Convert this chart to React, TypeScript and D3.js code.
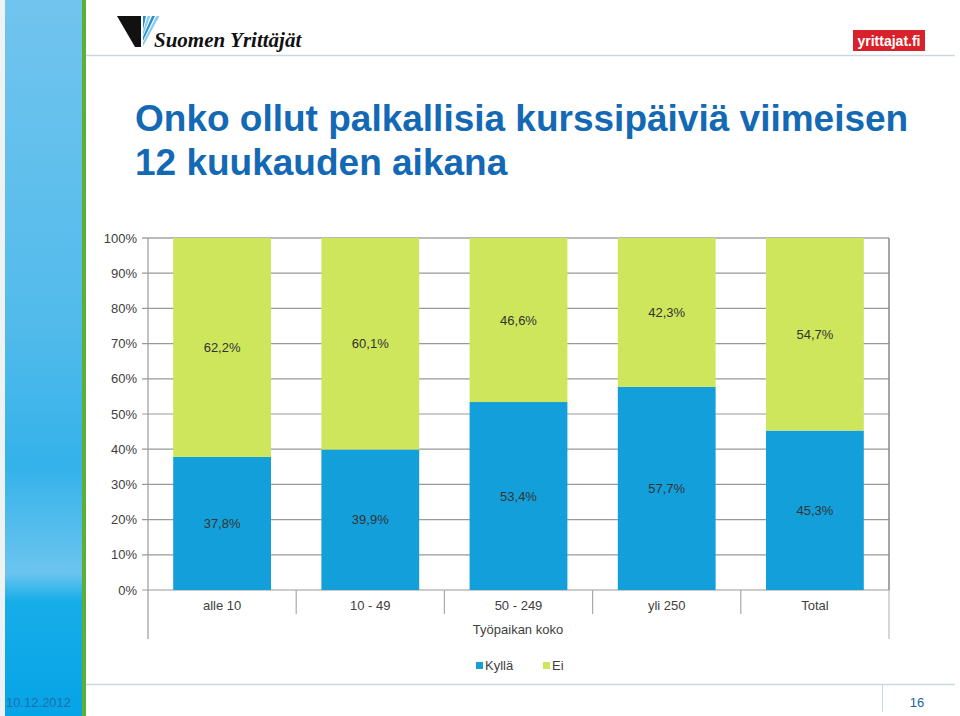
import { useEffect, useRef } from "react";
import * as d3 from "d3";

const categories = ["alle 10", "10 - 49", "50 - 249", "yli 250", "Total"];
const kylla = [37.8, 39.9, 53.4, 57.7, 45.3];
const ei = [62.2, 60.1, 46.6, 42.3, 54.7];
const seriesNames = ["Kyllä", "Ei"];
const yTicks = [0, 10, 20, 30, 40, 50, 60, 70, 80, 90, 100];

const W = 960;
const H = 716;
const BLUE = "#139fda";
const GREEN = "#cde65b";
const TITLE = "#1369b4";
const FONT = "Liberation Sans, Arial, sans-serif";

const fmt = (v: number) => v.toFixed(1).replace(".", ",") + "%";

export default function App() {
  const svgRef = useRef<SVGSVGElement>(null);

  useEffect(() => {
    if (!svgRef.current) return;
    const svg = d3.select(svgRef.current);
    svg.selectAll("*").remove();

    const defs = svg.append("defs");
    const grad = defs
      .append("linearGradient")
      .attr("id", "strip")
      .attr("x1", 0)
      .attr("y1", 0)
      .attr("x2", 0)
      .attr("y2", 1);
    grad.append("stop").attr("offset", "0%").attr("stop-color", "#71c4ee");
    grad.append("stop").attr("offset", "45%").attr("stop-color", "#52bbeb");
    grad.append("stop").attr("offset", "65%").attr("stop-color", "#34b2ea");
    grad.append("stop").attr("offset", "80%").attr("stop-color", "#6cc4ef");
    grad.append("stop").attr("offset", "84%").attr("stop-color", "#17ade9");
    grad.append("stop").attr("offset", "100%").attr("stop-color", "#05a4e6");

    // background + side strip
    svg.append("rect").attr("width", W).attr("height", H).attr("fill", "#fff");
    svg.append("rect").attr("x", 0).attr("width", 5).attr("height", H).attr("fill", "#eef2f4");
    svg.append("rect").attr("x", 5).attr("width", 77).attr("height", H).attr("fill", "url(#strip)");
    svg.append("rect").attr("x", 82).attr("width", 4).attr("height", H).attr("fill", "#5bb033");

    // header rule + logos
    svg.append("line").attr("x1", 86).attr("x2", 955).attr("y1", 55.5).attr("y2", 55.5)
      .attr("stroke", "#c9d9e0").attr("stroke-width", 1.5);
    const logo = svg.append("g").attr("transform", "translate(117,16)");
    logo.append("path").attr("d", "M0,0 L24,0 L24,31 L18,31 Z").attr("fill", "#111");
    [0, 1, 2, 3].forEach((i) => {
      const o = i * 4.5;
      logo.append("path")
        .attr("d", `M${26 + o},0 L${29 + o},0 L${26},${14 + o * 1.2} L26,${10 + o * 1.2} Z`)
        .attr("fill", i % 2 ? "#8ccbee" : "#2a8fd0");
    });
    svg.append("text").attr("x", 154).attr("y", 47)
      .attr("font-family", "Liberation Serif, Times New Roman, serif")
      .attr("font-style", "italic").attr("font-weight", "bold").attr("font-size", 21)
      .attr("fill", "#111").text("Suomen Yrittäjät");
    svg.append("rect").attr("x", 853).attr("y", 30).attr("width", 72).attr("height", 21).attr("fill", "#d8212a");
    svg.append("text").attr("x", 889).attr("y", 46).attr("text-anchor", "middle")
      .attr("font-family", FONT).attr("font-weight", "bold").attr("font-size", 14)
      .attr("fill", "#fff").text("yrittajat.fi");

    // title
    const title = svg.append("text").attr("font-family", FONT).attr("font-size", 37)
      .attr("font-weight", "bold").attr("fill", TITLE);
    title.append("tspan").attr("x", 135).attr("y", 131).text("Onko ollut palkallisia kurssipäiviä viimeisen");
    title.append("tspan").attr("x", 135).attr("y", 175).text("12 kuukauden aikana");

    // chart
    const x0 = 148, x1 = 889, yTop = 238, yBot = 590;
    const x = d3.scaleBand<string>().domain(categories).range([x0, x1]).paddingInner(0.34).paddingOuter(0.17);
    const y = d3.scaleLinear().domain([0, 100]).range([yBot, yTop]);
    const g = svg.append("g");

    yTicks.forEach((t) => {
      g.append("line").attr("x1", x0 - 6).attr("x2", x1).attr("y1", y(t)).attr("y2", y(t))
        .attr("stroke", t === 100 ? "#777" : "#999").attr("stroke-width", 1.2);
      g.append("text").attr("x", 137).attr("y", y(t) + 4.5).attr("text-anchor", "end")
        .attr("font-family", FONT).attr("font-size", 13).attr("fill", "#404040").text(`${t}%`);
    });

    const stack = d3.stack<number>().keys(["0", "1"]).value((i, k) => (k === "0" ? kylla[i] : ei[i]));
    const layers = stack(categories.map((_, i) => i));
    const colors = [BLUE, GREEN];
    layers.forEach((layer, li) => {
      layer.forEach((d, i) => {
        g.append("rect").attr("x", x(categories[i])!).attr("width", x.bandwidth())
          .attr("y", y(d[1])).attr("height", y(d[0]) - y(d[1])).attr("fill", colors[li]);
        g.append("text").attr("x", x(categories[i])! + x.bandwidth() / 2)
          .attr("y", (y(d[0]) + y(d[1])) / 2 + 4.5).attr("text-anchor", "middle")
          .attr("font-family", FONT).attr("font-size", 13).attr("fill", "#333")
          .text(fmt(d[1] - d[0]));
      });
    });

    // axes frame
    g.append("line").attr("x1", x0).attr("x2", x0).attr("y1", yTop).attr("y2", 639)
      .attr("stroke", "#999").attr("stroke-width", 1.2);
    g.append("line").attr("x1", x1).attr("x2", x1).attr("y1", yTop).attr("y2", yBot)
      .attr("stroke", "#888").attr("stroke-width", 1.5);
    g.append("line").attr("x1", x1).attr("x2", x1).attr("y1", yBot).attr("y2", 639)
      .attr("stroke", "#bbb").attr("stroke-width", 1.2);
    const step = x.step();
    categories.forEach((c, i) => {
      if (i > 0) {
        const sx = x0 + step * i;
        g.append("line").attr("x1", sx).attr("x2", sx).attr("y1", yBot).attr("y2", 614)
          .attr("stroke", "#aaa").attr("stroke-width", 1.2);
      }
      g.append("text").attr("x", x(c)! + x.bandwidth() / 2).attr("y", 610).attr("text-anchor", "middle")
        .attr("font-family", FONT).attr("font-size", 13).attr("fill", "#404040").text(c);
    });
    g.append("text").attr("x", 518).attr("y", 634).attr("text-anchor", "middle")
      .attr("font-family", FONT).attr("font-size", 13).attr("fill", "#404040").text("Työpaikan koko");

    // legend
    const legendX = [476, 543];
    seriesNames.forEach((n, i) => {
      g.append("rect").attr("x", legendX[i]).attr("y", 662).attr("width", 7).attr("height", 7).attr("fill", colors[i]);
      g.append("text").attr("x", legendX[i] + 9).attr("y", 670).attr("font-family", FONT)
        .attr("font-size", 13).attr("fill", "#404040").text(n);
    });

    // footer
    svg.append("line").attr("x1", 86).attr("x2", 955).attr("y1", 684.5).attr("y2", 684.5)
      .attr("stroke", "#c9d9e0").attr("stroke-width", 1.5);
    svg.append("line").attr("x1", 882.5).attr("x2", 882.5).attr("y1", 685).attr("y2", 712)
      .attr("stroke", "#c9d9e0").attr("stroke-width", 1);
    svg.append("text").attr("x", 917).attr("y", 707).attr("text-anchor", "middle")
      .attr("font-family", FONT).attr("font-size", 13).attr("fill", "#1a5fa0").text("16");
    svg.append("text").attr("x", 6).attr("y", 707).attr("font-family", FONT)
      .attr("font-size", 13).attr("fill", "#1f6fb0").text("10.12.2012");
  }, []);

  return (
    <svg
      ref={svgRef}
      width={W}
      height={H}
      viewBox={`0 0 ${W} ${H}`}
      style={{ position: "absolute", left: 0, top: 0, display: "block" }}
    />
  );
}
